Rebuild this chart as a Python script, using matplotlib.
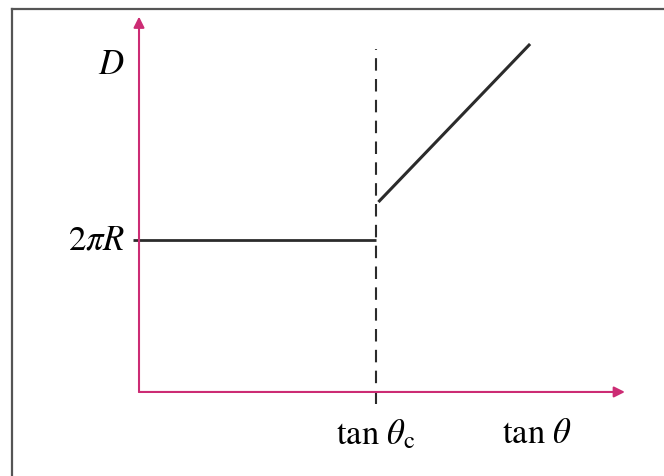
import matplotlib
matplotlib.use('Agg')
import matplotlib.pyplot as plt
from matplotlib.lines import Line2D

# D versus tan(theta): constant 2*pi*R below the critical angle, then rising
TAN_C = 1.0                 # tan(theta_c)
x_flat = [-0.025, 1.0]
y_flat = [1.0, 1.0]         # 2*pi*R
x_rise = [1.01, 1.65]
y_rise = [1.25, 2.29]
x_dash = [1.0, 1.0]
y_dash = [-0.08, 2.26]

X_MAX = 2.05                # end of horizontal axis arrow
Y_MAX = 2.47                # end of vertical axis arrow

MAGENTA = '#cc2c74'
DARK = '#2b2b2b'

plt.rcParams['mathtext.fontset'] = 'stix'
plt.rcParams['font.family'] = 'STIXGeneral'

fig = plt.figure(figsize=(6.64, 4.77), dpi=100)
ax = fig.add_axes([0, 0, 1, 1])
ax.set_xlim(-0.5865, 2.215)
ax.set_ylim(-0.553, 2.586)
ax.axis('off')

# frame (only left and top edges are visible in the crop)
fig.add_artist(Line2D([0.018, 0.018], [-0.01, 0.979], transform=fig.transFigure,
                      color='#555555', lw=1.6))
fig.add_artist(Line2D([0.018, 1.01], [0.979, 0.979], transform=fig.transFigure,
                      color='#555555', lw=1.6))

# axes arrows
arrow = dict(arrowstyle='-|>', color=MAGENTA, lw=1.5, mutation_scale=16,
             shrinkA=0, shrinkB=0)
ax.annotate('', xy=(X_MAX, 0), xytext=(0, 0), arrowprops=arrow)
ax.annotate('', xy=(0, Y_MAX), xytext=(0, 0), arrowprops=arrow)

# curves
ax.plot(x_flat, y_flat, color=DARK, lw=2.0, solid_capstyle='butt')
ax.plot(x_rise, y_rise, color=DARK, lw=2.2, solid_capstyle='butt')
ax.plot(x_dash, y_dash, color=DARK, lw=1.5, linestyle=(0, (6, 4)))

# labels
fs = 25
ax.text(-0.06, 2.15, r'$D$', fontsize=fs, ha='right', va='center')
ax.text(-0.058, 1.0, r'$2\pi R$', fontsize=fs, ha='right', va='center')
ax.text(TAN_C, -0.17, r'$\mathrm{tan}\ \theta_{\mathrm{c}}$', fontsize=fs,
        ha='center', va='top')
ax.text(1.68, -0.17, r'$\mathrm{tan}\ \theta$', fontsize=fs,
        ha='center', va='top')

fig.savefig('out.png', dpi=100)
